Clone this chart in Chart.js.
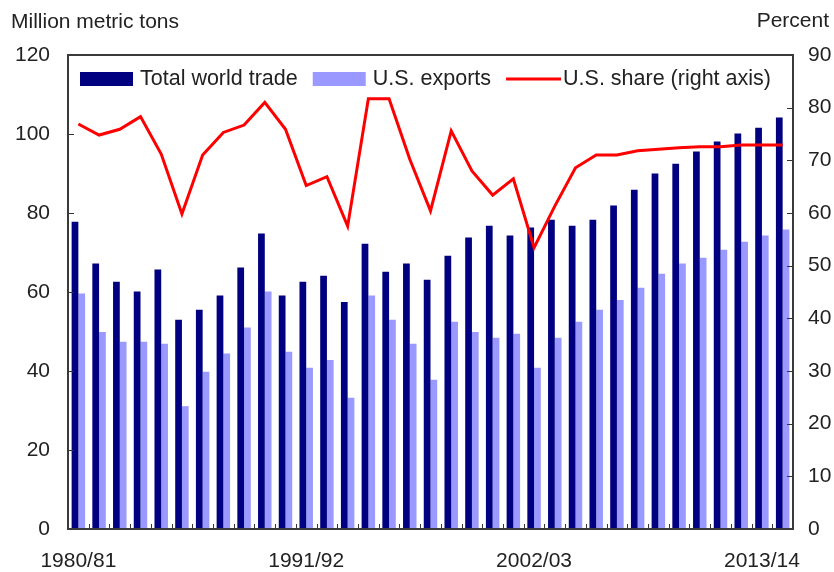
<!DOCTYPE html>
<html>
<head>
<meta charset="utf-8">
<script src="https://cdn.jsdelivr.net/npm/chart.js@4.4.1/dist/chart.umd.min.js"></script>
<style>
  html, body { margin: 0; padding: 0; background: #fff; }
</style>
</head>
<body>
<canvas id="grainChart" width="834" height="572"></canvas>
<script>
const marketYears = [
  "1980/81", "1981/82", "1982/83", "1983/84", "1984/85", "1985/86", "1986/87",
  "1987/88", "1988/89", "1989/90", "1990/91", "1991/92", "1992/93", "1993/94",
  "1994/95", "1995/96", "1996/97", "1997/98", "1998/99", "1999/00", "2000/01",
  "2001/02", "2002/03", "2003/04", "2004/05", "2005/06", "2006/07", "2007/08",
  "2008/09", "2009/10", "2010/11", "2011/12", "2012/13", "2013/14", "2014/15"
];

// million metric tons
const worldTrade = [
  77.8, 67.2, 62.6, 60.1, 65.7, 53.0, 55.5, 59.1, 66.2, 74.8, 59.1, 62.6,
  64.1, 57.5, 72.2, 65.1, 67.2, 63.1, 69.2, 73.8, 76.8, 74.3, 76.3, 78.3,
  76.8, 78.3, 81.9, 85.9, 90.0, 92.5, 95.6, 98.1, 100.1, 101.6, 104.2
];

const usExports = [
  59.6, 49.9, 47.4, 47.4, 46.9, 31.1, 39.8, 44.4, 51.0, 60.1, 44.9, 40.8,
  42.8, 33.2, 59.1, 53.0, 46.9, 37.8, 52.5, 49.9, 48.4, 49.4, 40.8, 48.4,
  52.5, 55.5, 58.0, 61.1, 64.6, 67.2, 68.7, 70.7, 72.7, 74.3, 75.8
];

// percent, right axis
const usShare = [
  76.9, 74.8, 75.9, 78.3, 71.2, 59.8, 71.0, 75.3, 76.7, 81.0, 75.9, 65.2,
  66.9, 57.5, 81.7, 81.7, 70.2, 60.4, 75.6, 68.0, 63.4, 66.5, 53.4, 61.3,
  68.6, 71.0, 71.0, 71.8, 72.1, 72.4, 72.6, 72.6, 72.9, 72.9, 72.9
];

const labeledYears = ["1980/81", "1991/92", "2002/03", "2013/14"];

const FONT = "'Liberation Sans', Arial, sans-serif";
const TEXT = "#222";

Chart.defaults.font.family = FONT;
Chart.defaults.font.size = 21;
Chart.defaults.color = TEXT;

// box around the plot, inward tick marks, unit labels and the legend row
const chartDecor = {
  id: "chartDecor",
  afterDraw(chart) {
    const { ctx, chartArea: a, scales } = chart;
    ctx.save();

    ctx.strokeStyle = "#333";
    ctx.lineWidth = 1;
    ctx.beginPath();
    scales.y.ticks.forEach((t) => {
      const y = Math.round(scales.y.getPixelForValue(t.value)) + 0.5;
      ctx.moveTo(a.left, y);
      ctx.lineTo(a.left + 6, y);
    });
    scales.y1.ticks.forEach((t) => {
      const y = Math.round(scales.y1.getPixelForValue(t.value)) + 0.5;
      ctx.moveTo(a.right, y);
      ctx.lineTo(a.right - 6, y);
    });
    for (let i = 1; i < chart.data.labels.length; i++) {
      const x = Math.round((scales.x.getPixelForValue(i - 1) + scales.x.getPixelForValue(i)) / 2) + 0.5;
      ctx.moveTo(x, a.bottom);
      ctx.lineTo(x, a.bottom - 5);
    }
    ctx.stroke();

    ctx.strokeStyle = "#3a3a3a";
    ctx.lineWidth = 2;
    ctx.strokeRect(a.left, a.top, a.right - a.left, a.bottom - a.top);

    ctx.font = "21px " + FONT;
    ctx.fillStyle = TEXT;
    ctx.textBaseline = "middle";
    ctx.textAlign = "left";
    ctx.fillText("Million metric tons", 11, 22);
    ctx.textAlign = "right";
    ctx.fillText("Percent", 829, 21);

    // legend
    ctx.font = "21.5px " + FONT;
    ctx.textAlign = "left";
    let x = a.left + 12;
    const yMid = a.top + 24;
    chart.data.datasets.slice().sort((p, q) => p.legendRank - q.legendRank).forEach((ds) => {
      if (ds.type === "line") {
        ctx.strokeStyle = ds.borderColor;
        ctx.lineWidth = 3;
        ctx.beginPath();
        ctx.moveTo(x, yMid);
        ctx.lineTo(x + 55, yMid);
        ctx.stroke();
        x += 57;
      } else {
        ctx.fillStyle = ds.backgroundColor;
        ctx.fillRect(x, yMid - 7, 53, 14);
        x += 60;
      }
      ctx.fillStyle = TEXT;
      ctx.fillText(ds.label, x, yMid);
      x += ctx.measureText(ds.label).width + 15;
    });

    ctx.restore();
  }
};

new Chart(document.querySelector("#grainChart"), {
  data: {
    labels: marketYears,
    datasets: [
      {
        type: "line",
        label: "U.S. share (right axis)",
        legendRank: 2,
        data: usShare,
        yAxisID: "y1",
        borderColor: "#ff0000",
        borderWidth: 3,
        pointRadius: 0,
        tension: 0,
        order: 0,
      },
      {
        type: "bar",
        label: "Total world trade",
        legendRank: 0,
        data: worldTrade,
        yAxisID: "y",
        backgroundColor: "#000080",
        categoryPercentage: 0.65,
        barPercentage: 1.0,
        order: 1,
      },
      {
        type: "bar",
        label: "U.S. exports",
        legendRank: 1,
        data: usExports,
        yAxisID: "y",
        backgroundColor: "#9999ff",
        categoryPercentage: 0.65,
        barPercentage: 1.0,
        order: 1,
      },
    ],
  },
  options: {
    responsive: false,
    animation: false,
    layout: {
      padding: { top: 55, right: 0, bottom: 0, left: 0 },
    },
    plugins: {
      legend: { display: false },
      title: { display: false },
      tooltip: { enabled: false },
    },
    scales: {
      x: {
        offset: true,
        grid: { display: false, drawTicks: false },
        border: { display: false },
        ticks: {
          autoSkip: false,
          maxRotation: 0,
          padding: 20,
          callback: (v, i) => (labeledYears.includes(marketYears[i]) ? marketYears[i] : ""),
        },
        afterFit: (s) => { s.height = 43; },
      },
      y: {
        position: "left",
        min: 0,
        max: 120,
        grid: { display: false, drawTicks: false },
        border: { display: false },
        ticks: { stepSize: 20, padding: 18 },
        afterFit: (s) => { s.width = 68; },
      },
      y1: {
        position: "right",
        min: 0,
        max: 90,
        grid: { display: false, drawTicks: false },
        border: { display: false },
        ticks: { stepSize: 10, padding: 15 },
        afterFit: (s) => { s.width = 41; },
      },
    },
  },
  plugins: [chartDecor],
});
</script>
</body>
</html>
